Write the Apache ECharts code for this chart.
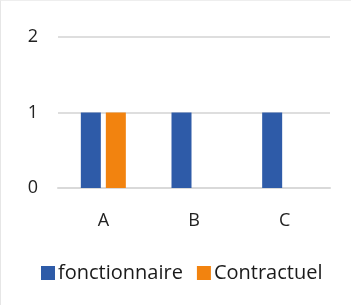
<!DOCTYPE html>
<html>
<head>
<meta charset="utf-8">
<script src="https://cdn.jsdelivr.net/npm/echarts@6/dist/echarts.min.js"></script>
<style>
html, body { margin: 0; padding: 0; background: #fff; }
#chart { width: 351px; height: 305px; box-sizing: border-box; border-left: 1px solid #e6e6e6; border-top: 1px solid #eeeeee; }
</style>
</head>
<body>
<div id="chart"></div>
<script>
var categories = ['A', 'B', 'C'];
var fonctionnaire = [1, 1, 1];
var contractuel = [1, 0, 0];
var yTicks = [0, 1, 2];

var chart = echarts.init(document.getElementById('chart'));
var option = {
  animation: false,
  textStyle: { fontFamily: 'Open Sans' },
  grid: { left: 57, right: 21, top: 36, bottom: 117 },
  legend: {
    data: ['fonctionnaire', 'Contractuel'],
    bottom: 17,
    left: 35,
    itemWidth: 14,
    itemHeight: 14,
    itemGap: 14,
    icon: 'rect',
    textStyle: { fontSize: 20, color: '#1a1a1a', padding: [0, 0, 0, -2] }
  },
  xAxis: {
    type: 'category',
    data: categories,
    axisLine: { lineStyle: { color: '#d9d9d9', width: 2 } },
    axisTick: { show: false },
    axisLabel: { fontSize: 18, color: '#222', margin: 24 }
  },
  yAxis: {
    type: 'value',
    min: yTicks[0],
    max: yTicks[yTicks.length - 1],
    interval: 1,
    splitLine: { lineStyle: { color: '#dedede', width: 2 } },
    axisLabel: { fontSize: 18, color: '#222', margin: 20 }
  },
  series: [
    {
      name: 'fonctionnaire',
      type: 'bar',
      data: fonctionnaire,
      barWidth: 20,
      barGap: '25%',
      itemStyle: { color: '#2E5BA8' }
    },
    {
      name: 'Contractuel',
      type: 'bar',
      data: contractuel,
      barWidth: 20,
      itemStyle: { color: '#F2830F' }
    }
  ]
};
chart.setOption(option);
</script>
</body>
</html>
